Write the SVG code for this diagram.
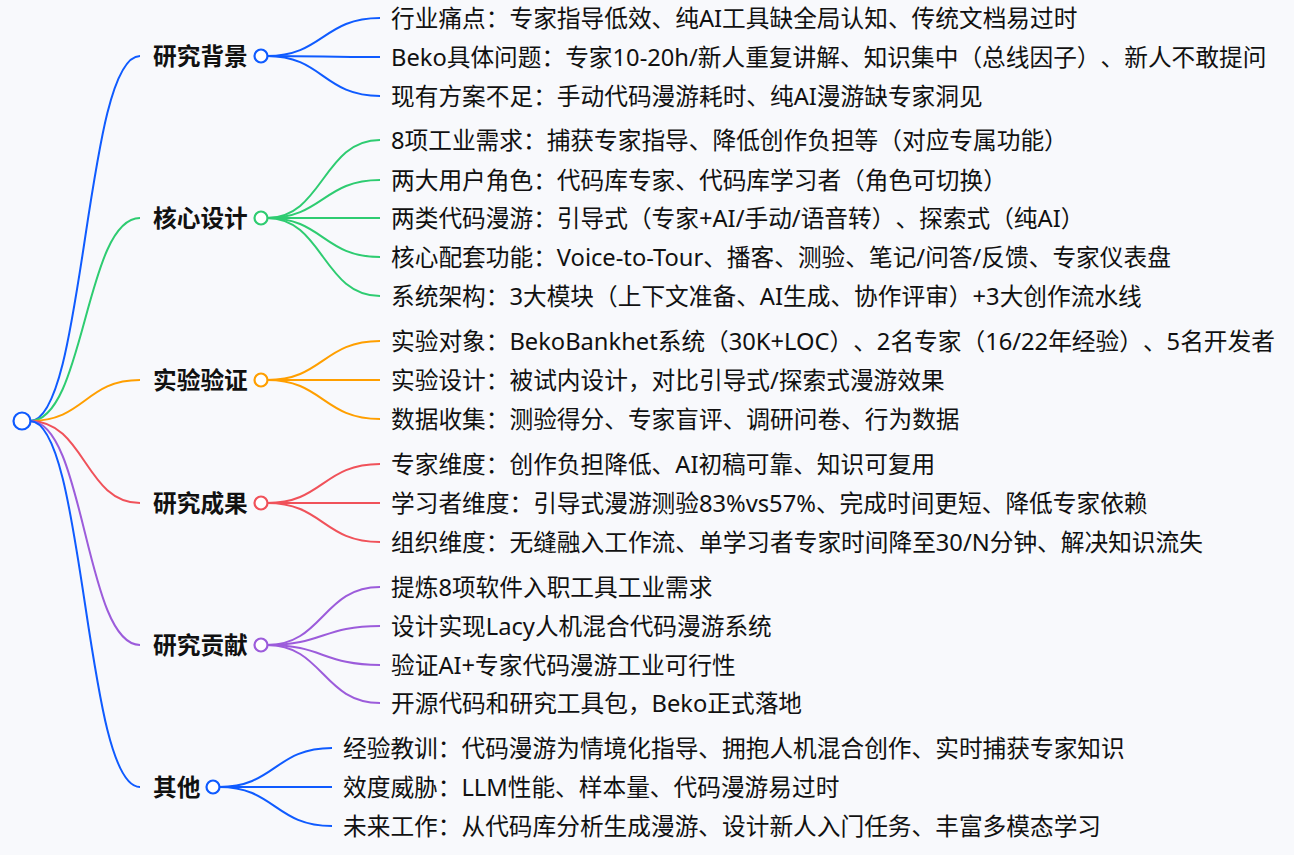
<svg xmlns="http://www.w3.org/2000/svg" width="1294" height="855" viewBox="0 0 1294 855">
<style>
text{font-family:"Noto Sans","Noto Sans CJK SC",sans-serif;font-size:23.7px;fill:#111;text-spacing-trim:space-all}
.b{font-weight:bold}
path{fill:none;stroke-width:2}
.c1{stroke:#0f5bff}.c2{stroke:#2ecc71}.c3{stroke:#ff9f00}.c4{stroke:#f0525a}.c5{stroke:#9c5cdb}
circle{fill:#fff;stroke-width:2.2}
</style>
<rect width="1294" height="855" fill="#f8f9fc"/>
<g id="connectors">
<path class="c1" d="M30 421C85 421 85 56 140 56"/>
<path class="c2" d="M30 421C85 421 85 218 140 218"/>
<path class="c3" d="M30 421C85 421 85 380 140 380"/>
<path class="c4" d="M30 421C85 421 85 503 140 503"/>
<path class="c5" d="M30 421C85 421 85 645 140 645"/>
<path class="c1" d="M30 421C85 421 85 787 140 787"/>
<path class="c1" d="M267 56C323 56 323 18 380 18"/>
<path class="c1" d="M267 56C323 56 323 57 380 57"/>
<path class="c1" d="M267 56C323 56 323 96 380 96"/>
<path class="c2" d="M267 218C323 218 323 140 380 140"/>
<path class="c2" d="M267 218C323 218 323 180 380 180"/>
<path class="c2" d="M267 218C323 218 323 218 380 218"/>
<path class="c2" d="M267 218C323 218 323 257 380 257"/>
<path class="c2" d="M267 218C323 218 323 296 380 296"/>
<path class="c3" d="M267 380C323 380 323 341 380 341"/>
<path class="c3" d="M267 380C323 380 323 380 380 380"/>
<path class="c3" d="M267 380C323 380 323 419 380 419"/>
<path class="c4" d="M267 503C323 503 323 464 380 464"/>
<path class="c4" d="M267 503C323 503 323 503 380 503"/>
<path class="c4" d="M267 503C323 503 323 542 380 542"/>
<path class="c5" d="M267 645C323 645 323 587 380 587"/>
<path class="c5" d="M267 645C323 645 323 626 380 626"/>
<path class="c5" d="M267 645C323 645 323 665 380 665"/>
<path class="c5" d="M267 645C323 645 323 703 380 703"/>
<path class="c1" d="M219 787C275 787 275 748 332 748"/>
<path class="c1" d="M219 787C275 787 275 787 332 787"/>
<path class="c1" d="M219 787C275 787 275 826 332 826"/>
</g>
<g id="root"><circle cx="22" cy="421" r="8.5" stroke="#0f5bff"/></g>
<g id="n1"><text class="b" x="153" y="65">研究背景</text><circle cx="261" cy="56" r="6.5" stroke="#0f5bff"/></g>
<g id="n1a"><text x="391" y="27">行业痛点：专家指导低效、纯AI工具缺全局认知、传统文档易过时</text></g>
<g id="n1b"><text x="391" y="66">Beko具体问题：专家10-20h/新人重复讲解、知识集中（总线因子）、新人不敢提问</text></g>
<g id="n1c"><text x="391" y="105">现有方案不足：手动代码漫游耗时、纯AI漫游缺专家洞见</text></g>
<g id="n2"><text class="b" x="153" y="227">核心设计</text><circle cx="261" cy="218" r="6.5" stroke="#2ecc71"/></g>
<g id="n2a"><text x="391" y="149">8项工业需求：捕获专家指导、降低创作负担等（对应专属功能）</text></g>
<g id="n2b"><text x="391" y="189">两大用户角色：代码库专家、代码库学习者（角色可切换）</text></g>
<g id="n2c"><text x="391" y="227">两类代码漫游：引导式（专家+AI/手动/语音转）、探索式（纯AI）</text></g>
<g id="n2d"><text x="391" y="266">核心配套功能：Voice-to-Tour、播客、测验、笔记/问答/反馈、专家仪表盘</text></g>
<g id="n2e"><text x="391" y="305">系统架构：3大模块（上下文准备、AI生成、协作评审）+3大创作流水线</text></g>
<g id="n3"><text class="b" x="153" y="389">实验验证</text><circle cx="261" cy="380" r="6.5" stroke="#ff9f00"/></g>
<g id="n3a"><text x="391" y="350">实验对象：BekoBankhet系统（30K+LOC）、2名专家（16/22年经验）、5名开发者</text></g>
<g id="n3b"><text x="391" y="389">实验设计：被试内设计，对比引导式/探索式漫游效果</text></g>
<g id="n3c"><text x="391" y="428">数据收集：测验得分、专家盲评、调研问卷、行为数据</text></g>
<g id="n4"><text class="b" x="153" y="512">研究成果</text><circle cx="261" cy="503" r="6.5" stroke="#f0525a"/></g>
<g id="n4a"><text x="391" y="473">专家维度：创作负担降低、AI初稿可靠、知识可复用</text></g>
<g id="n4b"><text x="391" y="512">学习者维度：引导式漫游测验83%vs57%、完成时间更短、降低专家依赖</text></g>
<g id="n4c"><text x="391" y="551">组织维度：无缝融入工作流、单学习者专家时间降至30/N分钟、解决知识流失</text></g>
<g id="n5"><text class="b" x="153" y="654">研究贡献</text><circle cx="261" cy="645" r="6.5" stroke="#9c5cdb"/></g>
<g id="n5a"><text x="391" y="596">提炼8项软件入职工具工业需求</text></g>
<g id="n5b"><text x="391" y="635">设计实现Lacy人机混合代码漫游系统</text></g>
<g id="n5c"><text x="391" y="674">验证AI+专家代码漫游工业可行性</text></g>
<g id="n5d"><text x="391" y="712">开源代码和研究工具包，Beko正式落地</text></g>
<g id="n6"><text class="b" x="153" y="796">其他</text><circle cx="213" cy="787" r="6.5" stroke="#0f5bff"/></g>
<g id="n6a"><text x="343" y="757">经验教训：代码漫游为情境化指导、拥抱人机混合创作、实时捕获专家知识</text></g>
<g id="n6b"><text x="343" y="796">效度威胁：LLM性能、样本量、代码漫游易过时</text></g>
<g id="n6c"><text x="343" y="835">未来工作：从代码库分析生成漫游、设计新人入门任务、丰富多模态学习</text></g>
</svg>
